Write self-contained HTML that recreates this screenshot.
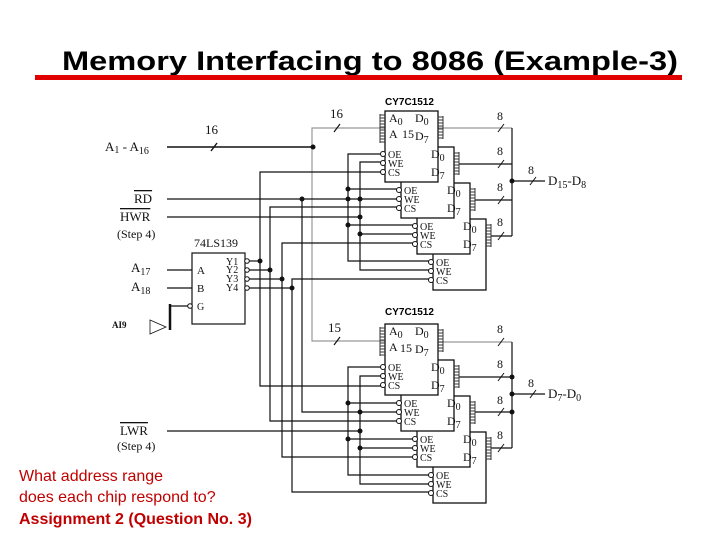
<!DOCTYPE html>
<html><head><meta charset="utf-8"><style>
body{margin:0;background:#fff;width:720px;height:540px;overflow:hidden}
svg{display:block}
.t{font-family:"Liberation Serif",serif;fill:#111}
</style></head><body>
<svg width="720" height="540" viewBox="0 0 720 540" xmlns="http://www.w3.org/2000/svg">
<defs>
<g id="box">
  <rect x="0" y="0" width="53" height="71" fill="#fff" stroke="#111" stroke-width="1.3"/>
  <g stroke="#333" stroke-width="1"><line x1="-5" y1="4" x2="0" y2="4"/><line x1="-5" y1="7" x2="0" y2="7"/><line x1="-5" y1="10" x2="0" y2="10"/><line x1="-5" y1="13" x2="0" y2="13"/><line x1="-5" y1="16" x2="0" y2="16"/><line x1="-5" y1="19" x2="0" y2="19"/><line x1="-5" y1="22" x2="0" y2="22"/><line x1="-5" y1="25" x2="0" y2="25"/><line x1="-5" y1="28" x2="0" y2="28"/><line x1="-5" y1="31" x2="0" y2="31"/>
  <line x1="53" y1="6" x2="58" y2="6"/><line x1="53" y1="9" x2="58" y2="9"/><line x1="53" y1="12" x2="58" y2="12"/><line x1="53" y1="15" x2="58" y2="15"/><line x1="53" y1="18" x2="58" y2="18"/><line x1="53" y1="21" x2="58" y2="21"/><line x1="53" y1="24" x2="58" y2="24"/><line x1="53" y1="27" x2="58" y2="27"/><line x1="58" y1="5" x2="58" y2="28"/><line x1="-5" y1="3" x2="-5" y2="32"/></g>
  <circle cx="-2" cy="43" r="2.5" fill="#fff" stroke="#111"/>
  <circle cx="-2" cy="52" r="2.5" fill="#fff" stroke="#111"/>
  <circle cx="-2" cy="61" r="2.5" fill="#fff" stroke="#111"/>
</g>
<g id="lbl">
  <text class="t" x="30" y="11" font-size="12">D<tspan font-size="10" dy="3">0</tspan></text>
  <text class="t" x="30" y="29" font-size="12">D<tspan font-size="10" dy="3">7</tspan></text>
  <text class="t" x="3" y="47" font-size="10">OE</text>
  <text class="t" x="3" y="56" font-size="10">WE</text>
  <text class="t" x="3" y="65" font-size="10">CS</text>
</g>
<g id="lblA">
  <text class="t" x="4" y="11" font-size="12">A<tspan font-size="10" dy="3">0</tspan></text>
  <text class="t" x="4" y="27" font-size="12">A</text>
</g>
</defs>

<text x="62" y="70" font-family="Liberation Sans,sans-serif" font-weight="bold" font-size="27" textLength="616" lengthAdjust="spacingAndGlyphs" fill="#000">Memory Interfacing to 8086 (Example-3)</text>
<rect x="35" y="75" width="647" height="5" fill="#e00000"/>

<g stroke="#111" stroke-width="1.4" fill="none">
<line x1="167" y1="147" x2="313" y2="147"/>
<line x1="211" y1="151" x2="217" y2="143"/>
</g>
<g stroke="#999" stroke-width="1.2" fill="none">
<polyline points="385,128 312,128 312,341 385,341"/>
<polyline points="438,128 512,128"/>
<polyline points="438,342 512,342"/>
</g>
<g stroke="#111" stroke-width="1.2" fill="none">
<line x1="334" y1="132" x2="340" y2="124"/>
<line x1="334" y1="345" x2="340" y2="337"/>
<line x1="459" y1="164" x2="512" y2="164"/>
<line x1="475" y1="200" x2="512" y2="200"/>
<line x1="491" y1="236" x2="512" y2="236"/>
<line x1="512" y1="128" x2="512" y2="236"/>
<line x1="512" y1="181" x2="545" y2="181"/>
<line x1="459" y1="377" x2="512" y2="377"/>
<line x1="475" y1="412" x2="512" y2="412"/>
<line x1="491" y1="448" x2="512" y2="448"/>
<line x1="512" y1="342" x2="512" y2="448"/>
<line x1="512" y1="394" x2="545" y2="394"/>
<g stroke-width="1"><line x1="498" y1="132" x2="504" y2="124"/><line x1="498" y1="168" x2="504" y2="160"/><line x1="498" y1="204" x2="504" y2="196"/><line x1="498" y1="240" x2="504" y2="232"/><line x1="530" y1="185" x2="536" y2="177"/>
<line x1="498" y1="346" x2="504" y2="338"/><line x1="498" y1="381" x2="504" y2="373"/><line x1="498" y1="416" x2="504" y2="408"/><line x1="498" y1="452" x2="504" y2="444"/><line x1="530" y1="398" x2="536" y2="390"/></g>
<line x1="167" y1="199" x2="399" y2="199"/>
<line x1="167" y1="217" x2="360" y2="217"/>
<line x1="167" y1="431" x2="360" y2="431"/>
<rect x="192" y="253" width="53" height="71"/>
<line x1="167" y1="270" x2="192" y2="270"/>
<line x1="167" y1="288" x2="192" y2="288"/>
<line x1="170" y1="306" x2="188" y2="306"/>
<line x1="170" y1="304" x2="170" y2="330" stroke-width="2.5"/>
<polygon points="150,320 150,334 166,327" stroke-width="0.8"/>
<line x1="249" y1="261" x2="260" y2="261"/><line x1="249" y1="270" x2="270" y2="270"/><line x1="249" y1="279" x2="282" y2="279"/><line x1="249" y1="288" x2="292" y2="288"/>
<polyline points="383,172 260,172 260,386 383,386"/>
<polyline points="399,207 270,207 270,421 399,421"/>
<polyline points="415,243 282,243 282,457 415,457"/>
<polyline points="431,279 292,279 292,492 431,492"/>
<polyline points="302,199 302,412 399,412"/>
<polyline points="383,154 348,154 348,261 431,261"/>
<line x1="348" y1="189" x2="399" y2="189"/><line x1="348" y1="225" x2="415" y2="225"/>
<polyline points="383,162 360,162 360,270 431,270"/>
<line x1="360" y1="234" x2="415" y2="234"/>
<polyline points="383,367 348,367 348,475 431,475"/>
<line x1="348" y1="403" x2="399" y2="403"/><line x1="348" y1="439" x2="415" y2="439"/>
<polyline points="383,376 360,376 360,484 431,484"/>
<line x1="360" y1="448" x2="415" y2="448"/>
</g>
<g fill="#fff" stroke="#111" stroke-width="1"><circle cx="247" cy="261" r="2.3"/><circle cx="247" cy="270" r="2.3"/><circle cx="247" cy="279" r="2.3"/><circle cx="247" cy="288" r="2.3"/><circle cx="190" cy="306" r="2.3"/></g>
<g fill="#111">
<circle cx="313" cy="147" r="2.5"/>
<circle cx="260" cy="261" r="2.5"/><circle cx="270" cy="270" r="2.5"/><circle cx="282" cy="279" r="2.5"/><circle cx="292" cy="288" r="2.5"/>
<circle cx="302" cy="199" r="2.5"/><circle cx="348" cy="189" r="2.5"/><circle cx="348" cy="199" r="2.5"/><circle cx="360" cy="199" r="2.5"/><circle cx="360" cy="217" r="2.5"/><circle cx="348" cy="225" r="2.5"/><circle cx="360" cy="234" r="2.5"/>
<circle cx="348" cy="403" r="2.5"/><circle cx="360" cy="412" r="2.5"/><circle cx="360" cy="431" r="2.5"/><circle cx="348" cy="439" r="2.5"/><circle cx="360" cy="448" r="2.5"/>
<circle cx="512" cy="181" r="2.5"/><circle cx="512" cy="377" r="2.5"/><circle cx="512" cy="394" r="2.5"/><circle cx="512" cy="412" r="2.5"/>
</g>

<use href="#box" x="433" y="219"/><use href="#box" x="417" y="183"/><use href="#box" x="401" y="147"/><use href="#box" x="385" y="111"/>
<use href="#box" x="433" y="432"/><use href="#box" x="417" y="396"/><use href="#box" x="401" y="360"/><use href="#box" x="385" y="324"/>
<use href="#lbl" x="433" y="219"/><use href="#lbl" x="417" y="183"/><use href="#lbl" x="401" y="147"/><use href="#lbl" x="385" y="111"/>
<use href="#lbl" x="433" y="432"/><use href="#lbl" x="417" y="396"/><use href="#lbl" x="401" y="360"/><use href="#lbl" x="385" y="324"/>
<use href="#lblA" x="385" y="111"/><use href="#lblA" x="385" y="324"/>
<text class="t" x="402" y="138" font-size="12">15</text>
<text class="t" x="400" y="352" font-size="12" fill="#666">15</text>

<text x="385" y="105" font-family="Liberation Sans,sans-serif" font-weight="bold" font-size="10">CY7C1512</text>
<text x="385" y="315" font-family="Liberation Sans,sans-serif" font-weight="bold" font-size="10">CY7C1512</text>
<g class="t" font-size="13">
<text x="105" y="151">A<tspan font-size="10" dy="2">1</tspan><tspan dy="-2"> - A</tspan><tspan font-size="10" dy="3">16</tspan></text>
<text x="205" y="134">16</text><text x="330" y="118">16</text><text x="328" y="332">15</text>
<text x="134" y="203" text-decoration="overline">RD</text>
<text x="120" y="221" text-decoration="overline">HWR</text>
<text x="117" y="238" font-size="12">(Step 4)</text>
<text x="120" y="435" text-decoration="overline">LWR</text>
<text x="117" y="450" font-size="12">(Step 4)</text>
<text x="131" y="272">A<tspan font-size="10" dy="3">17</tspan></text>
<text x="131" y="291">A<tspan font-size="10" dy="3">18</tspan></text>
<text x="112" y="328" font-size="9" font-weight="bold">AI9</text>
<text x="194" y="247" font-size="12">74LS139</text>
<text x="197" y="274" font-size="11">A</text><text x="197" y="292" font-size="11">B</text><text x="197" y="310" font-size="10">G</text>
<text x="226" y="265" font-size="10">Y1</text><text x="226" y="273" font-size="10">Y2</text><text x="226" y="282" font-size="10">Y3</text><text x="226" y="291" font-size="10">Y4</text>
<text x="497" y="120" font-size="12">8</text><text x="497" y="155" font-size="12">8</text><text x="497" y="191" font-size="12">8</text><text x="497" y="226" font-size="12">8</text><text x="528" y="174" font-size="12">8</text>
<text x="497" y="333" font-size="12">8</text><text x="497" y="368" font-size="12">8</text><text x="497" y="404" font-size="12">8</text><text x="497" y="439" font-size="12">8</text><text x="528" y="387" font-size="12">8</text>
<text x="548" y="185">D<tspan font-size="10" dy="3">15</tspan><tspan dy="-3">-D</tspan><tspan font-size="10" dy="3">8</tspan></text>
<text x="548" y="398">D<tspan font-size="10" dy="3">7</tspan><tspan dy="-3">-D</tspan><tspan font-size="10" dy="3">0</tspan></text>
</g>
<g font-family="Liberation Sans,sans-serif" font-size="16" fill="#c00000">
<text x="19" y="481">What address range</text>
<text x="19" y="502">does each chip respond to?</text>
<text x="19" y="524" font-weight="bold">Assignment 2 (Question No. 3)</text>
</g>
</svg>
</body></html>
